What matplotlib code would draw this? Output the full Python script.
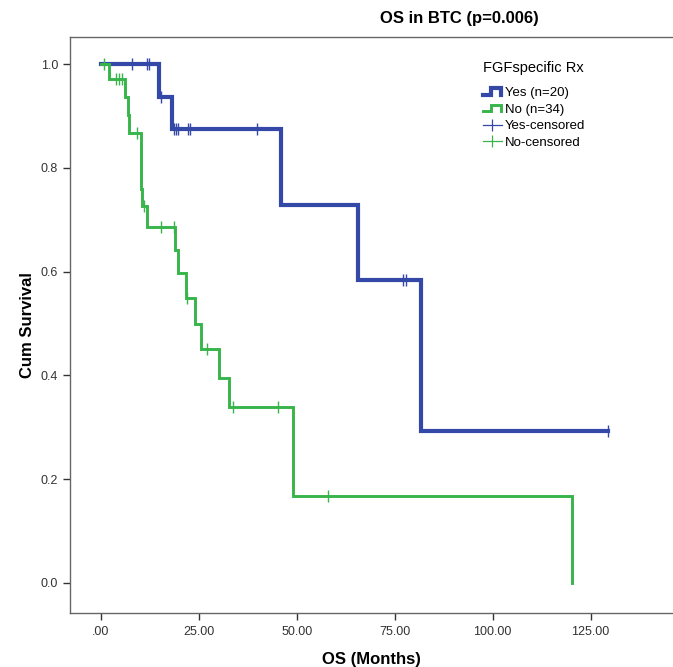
import numpy as np
import matplotlib
matplotlib.use('Agg')
import matplotlib.pyplot as plt
from matplotlib.lines import Line2D
from matplotlib.legend_handler import HandlerBase

plt.rcParams['font.family'] = ['Liberation Sans', 'DejaVu Sans']

# Kaplan-Meier steps (time in months, survival after each step)
yes_times = [0, 14.9, 18.2, 45.9, 65.6, 81.7, 129.4]
yes_surv = [1.0, 0.9375, 0.875, 0.729, 0.583, 0.292, 0.292]
yes_censored = [8.0, 11.9, 12.4, 15.3, 18.6, 19.1, 19.6, 22.3, 22.8, 39.8, 77.1, 77.9, 129.4]

no_times = [0, 2.1, 6.2, 6.9, 7.2, 10.2, 10.6, 11.9, 18.9, 19.6, 21.8, 24.1,
            25.6, 30.3, 32.7, 49.0, 120.2]
no_surv = [1.0, 0.971, 0.937, 0.903, 0.868, 0.760, 0.727, 0.687, 0.641, 0.597,
           0.549, 0.500, 0.451, 0.394, 0.338, 0.168, 0.0]
no_censored = [0.85, 3.9, 4.7, 5.5, 9.2, 11.1, 15.3, 18.8, 22.0, 27.0, 33.8,
               45.3, 58.1]

x_ticks = [0, 25, 50, 75, 100, 125]
x_tick_labels = ['.00', '25.00', '50.00', '75.00', '100.00', '125.00']
y_ticks = [0.0, 0.2, 0.4, 0.6, 0.8, 1.0]

BLUE = '#3448a8'
GREEN = '#38b54a'


def level_at(times, surv, t):
    idx = np.searchsorted(times, t, side='right') - 1
    return np.asarray(surv)[idx]


class HandlerStep(HandlerBase):
    def create_artists(self, legend, orig_handle, xdescent, ydescent,
                       width, height, fontsize, trans):
        x0 = -xdescent
        y0 = -ydescent + height * 0.15
        y1 = -ydescent + height * 0.85
        xs = [x0, x0 + width * 0.4, x0 + width * 0.4, x0 + width * 0.95, x0 + width * 0.95]
        ys = [y0, y0, y1, y1, y0]
        line = Line2D(xs, ys, color=orig_handle.get_color(),
                      lw=orig_handle.get_linewidth(), solid_joinstyle='miter')
        line.set_transform(trans)
        return [line]


fig = plt.figure(figsize=(6.73, 6.67), dpi=100)
ax = fig.add_axes([0.104, 0.0805, 0.896, 0.8635])

h_yes, = ax.step(yes_times, yes_surv, where='post', color=BLUE, lw=3.0,
                 solid_joinstyle='miter')
h_no, = ax.step(no_times, no_surv, where='post', color=GREEN, lw=2.1,
                solid_joinstyle='miter')

ax.plot(yes_censored, level_at(yes_times, yes_surv, yes_censored), ls='none',
        marker='|', ms=8, mew=1.0, color=BLUE)
ax.plot(no_censored, level_at(no_times, no_surv, no_censored), ls='none',
        marker='|', ms=8, mew=1.0, color=GREEN)

ax.set_xlim(-7.83, 146.0)
ax.set_ylim(-0.059, 1.052)
ax.set_xticks(x_ticks)
ax.set_xticklabels(x_tick_labels)
ax.set_yticks(y_ticks)
ax.set_yticklabels([f'{v:.1f}' for v in y_ticks])
ax.tick_params(direction='out', length=5, width=1.0, color='#333333',
               labelsize=9, labelcolor='#333333')
ax.tick_params(axis='x', pad=4)

ax.spines['right'].set_visible(False)
for side in ['left', 'bottom', 'top']:
    ax.spines[side].set_color('#666666')
    ax.spines[side].set_linewidth(1.0)

ax.set_xlabel('OS (Months)', fontsize=12, fontweight='bold', labelpad=10)
ax.set_ylabel('Cum Survival', fontsize=12, fontweight='bold', labelpad=4)
ax.set_title('OS in BTC (p=0.006)', fontsize=12, fontweight='bold', x=0.645, pad=10)

cens_yes = Line2D([], [], color=BLUE, lw=0.9, marker='|', ms=9, mew=0.9)
cens_no = Line2D([], [], color=GREEN, lw=0.9, marker='|', ms=9, mew=0.9)
leg = fig.legend([h_yes, h_no, cens_yes, cens_no],
                 ['Yes (n=20)', 'No (n=34)', 'Yes-censored', 'No-censored'],
                 handler_map={h_yes: HandlerStep(), h_no: HandlerStep()},
                 loc='upper left', bbox_to_anchor=(476 / 673, 1 - 54 / 667),
                 frameon=False, fontsize=9.5, title='FGFspecific Rx',
                 title_fontsize=10.5, alignment='left', borderpad=0,
                 handlelength=1.5, handletextpad=0.2, labelspacing=0.32)
leg._legend_box.sep = 9

fig.savefig('out.png', dpi=100)
